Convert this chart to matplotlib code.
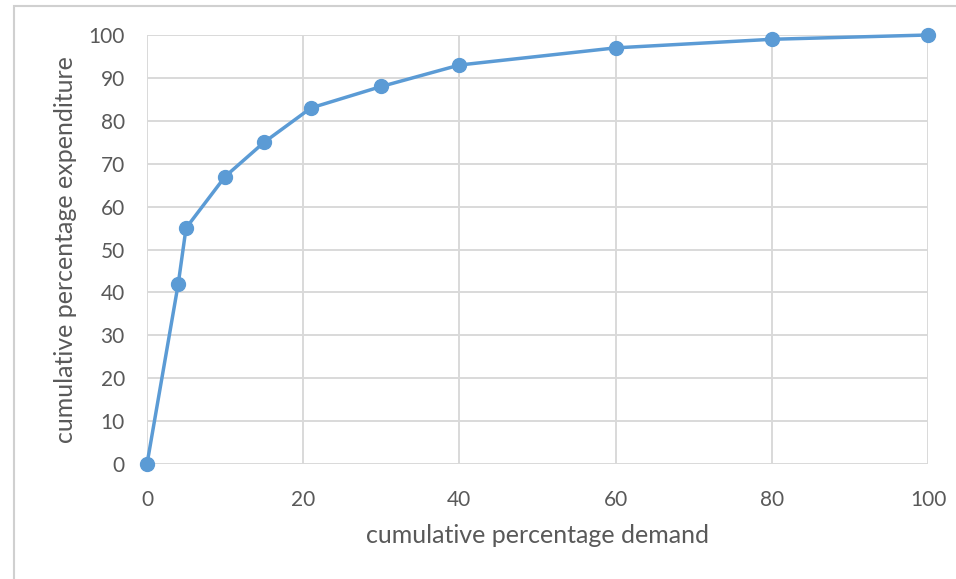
import matplotlib
matplotlib.use("Agg")
import matplotlib.pyplot as plt
import matplotlib.patches as mpatches

# ── Data ──────────────────────────────────────────────────────────────────────
demand      = [0, 4, 5, 10, 15, 21, 30, 40, 60, 80, 100]
expenditure = [0, 42, 55, 67, 75, 83, 88, 93, 97, 99, 100]
x_ticks     = [0, 20, 40, 60, 80, 100]
y_ticks     = [0, 10, 20, 30, 40, 50, 60, 70, 80, 90, 100]

TEXT = "#595959"
GRID = "#d9d9d9"
LINE = "#5b9bd5"

plt.rcParams["font.family"] = ["Lato", "DejaVu Sans"]

fig = plt.figure(figsize=(9.56, 5.79), dpi=100)
fig.patch.set_facecolor("white")

# chart-area border (runs off the right and bottom edges)
fig.patches.append(mpatches.Rectangle((14 / 956, -0.1), 1.2, 1 - 6 / 579 + 0.1,
                                      transform=fig.transFigure, fill=False,
                                      edgecolor="#d0d0d0", linewidth=1.5))

ax = fig.add_axes([147 / 956, 1 - 464 / 579, (928 - 147) / 956, (464 - 35) / 579])
ax.plot(demand, expenditure, color=LINE, linewidth=2.5, marker="o",
        markersize=10, markerfacecolor=LINE, markeredgecolor=LINE,
        clip_on=False, zorder=3)

ax.set_xlim(0, 100)
ax.set_ylim(0, 100)
ax.set_xticks(x_ticks)
ax.set_yticks(y_ticks)
ax.grid(True, color=GRID, linewidth=1.4)
ax.set_axisbelow(True)
for s in ax.spines.values():
    s.set_visible(False)
ax.tick_params(length=0, labelsize=15, colors=TEXT)
ax.tick_params(axis="x", pad=19)
ax.tick_params(axis="y", pad=16)

ax.set_xlabel("cumulative percentage demand", fontsize=18, color=TEXT, labelpad=10)
ax.set_ylabel("cumulative percentage expenditure", fontsize=18, color=TEXT, labelpad=8)

fig.savefig("out.png", dpi=100, facecolor="white")
